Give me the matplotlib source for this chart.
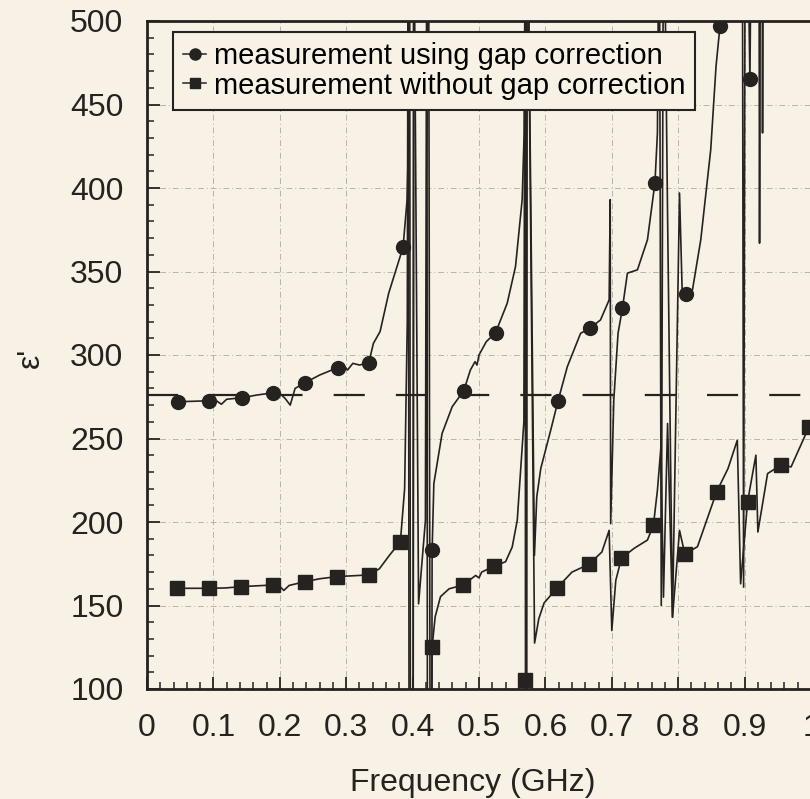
import matplotlib
matplotlib.use('Agg')
import matplotlib.pyplot as plt
from matplotlib.ticker import MultipleLocator

plt.rcParams['font.family'] = ['Liberation Sans', 'DejaVu Sans']

# permittivity traces, gap-corrected (circles) and uncorrected (squares)
circ_f = [0.046, 0.070, 0.094, 0.105, 0.112, 0.120, 0.143, 0.165, 0.1905, 0.200,
          0.208, 0.2157, 0.223, 0.238, 0.260, 0.287, 0.297, 0.302, 0.310, 0.320,
          0.334, 0.341, 0.351, 0.364, 0.3856, 0.3917, 0.394, 0.3955, 0.397, 0.4005,
          0.4015, 0.409, 0.4193, 0.4215, 0.4225, 0.428, 0.4294, 0.432, 0.4444, 0.4596,
          0.477, 0.487, 0.494, 0.497, 0.500, 0.511, 0.525, 0.5425, 0.555, 0.565,
          0.568, 0.5705, 0.5715, 0.5725, 0.5835, 0.587, 0.593, 0.608, 0.619, 0.633,
          0.653, 0.667, 0.683, 0.696, 0.6976, 0.6983, 0.703, 0.7094, 0.716, 0.7235,
          0.7386, 0.7537, 0.765, 0.7687, 0.7715, 0.7745, 0.778, 0.784, 0.7914, 0.802,
          0.806, 0.8115, 0.8215, 0.834, 0.849, 0.857, 0.863, 0.866, 0.8965, 0.8985,
          0.901, 0.906, 0.908, 0.911, 0.9215, 0.9225, 0.924, 0.9265, 0.927, 0.928]
circ_e = [272, 272.3, 272.6, 272.5, 270.5, 273.5, 274.4, 276, 277.4, 277,
          274, 270, 280, 283.4, 288, 292.4, 293.5, 291, 295, 294,
          295.4, 307, 314, 337, 364.5, 393, 433, 600, -100, -100,
          600, 151, 201, 600, -100, -100, 183.2, 223, 253, 269,
          278.6, 291, 296, 294, 300, 308, 313.4, 331, 353, 393,
          433, 600, -100, 600, 180, 215, 232, 255, 272.5, 293,
          313, 316, 321, 333, 393, 199, 273, 313, 328, 349,
          351, 369, 403.2, 433, 600, 150, 600, 383, 143, 397,
          338, 336.5, 339, 369, 423, 473, 497.2, 600, 600, 161,
          600, 520, 465, 600, 600, 367, 600, 600, 433, 600]

sq_f = [0.0448, 0.0935, 0.118, 0.1418, 0.1905, 0.200, 0.206, 0.214, 0.238, 0.260,
        0.286, 0.334, 0.350, 0.365, 0.3816, 0.388, 0.392, 0.3935, 0.395, 0.4005,
        0.402, 0.424, 0.427, 0.4294, 0.434, 0.442, 0.455, 0.476, 0.495, 0.500,
        0.504, 0.523, 0.540, 0.550, 0.5576, 0.5676, 0.5695, 0.570, 0.5705, 0.5725,
        0.5837, 0.590, 0.598, 0.618, 0.640, 0.6656, 0.685, 0.696, 0.700, 0.706,
        0.7145, 0.7335, 0.7537, 0.7627, 0.7687, 0.774, 0.7778, 0.784, 0.7914, 0.802,
        0.810, 0.829, 0.858, 0.875, 0.889, 0.894, 0.9045, 0.917, 0.920, 0.9346,
        0.9548, 0.970, 0.997, 1.010]
sq_e = [160.3, 160.3, 160.5, 161.3, 162.3, 161.5, 159, 162, 164.3, 166,
        167.3, 168.3, 172, 180, 188.2, 220, 320, 600, -100, -100,
        600, 600, -100, 125.3, 143.3, 155.3, 160, 162.3, 168, 166.5,
        170, 173.6, 176.2, 185, 201, 260, 600, 105.4, -100, 600,
        127.5, 142, 151.5, 160.7, 170, 174.7, 182, 195, 135, 165,
        178.3, 184.2, 189.2, 198.2, 219, 245, 155, 259, 143, 195,
        180.8, 185.2, 218.2, 232, 249, 163, 212.2, 240, 194, 229,
        234.1, 233, 257, 265]

# sampled points that carry markers
circ_mark_f = [0.046, 0.094, 0.143, 0.1905, 0.238, 0.287, 0.334, 0.3856, 0.4294,
               0.477, 0.525, 0.619, 0.667, 0.716, 0.765, 0.8115, 0.863, 0.908]
circ_mark_e = [272, 272.6, 274.4, 277.4, 283.4, 292.4, 295.4, 364.5, 183.2,
               278.6, 313.4, 272.5, 316, 328, 403.2, 336.5, 497.2, 465]
sq_mark_f = [0.0448, 0.0935, 0.1418, 0.1905, 0.238, 0.286, 0.334, 0.3816, 0.4294,
             0.476, 0.523, 0.570, 0.618, 0.6656, 0.7145, 0.7627, 0.810, 0.858,
             0.9045, 0.9548, 0.997]
sq_mark_e = [160.3, 160.3, 161.3, 162.3, 164.3, 167.3, 168.3, 188.2, 125.3,
             162.3, 173.6, 105.4, 160.7, 174.7, 178.3, 198.2, 180.8, 218.2,
             212.2, 234.1, 257]

ref_level = 276
x_ticks = [0, 0.1, 0.2, 0.3, 0.4, 0.5, 0.6, 0.7, 0.8, 0.9, 1.0]
x_labels = ['0', '0.1', '0.2', '0.3', '0.4', '0.5', '0.6', '0.7', '0.8', '0.9', '1']
y_ticks = [100, 150, 200, 250, 300, 350, 400, 450, 500]

bg = '#f7f1e6'
ink = '#262220'


def main():
 fig = plt.figure(figsize=(8.1, 7.99), dpi=100, facecolor=bg)
 ax = fig.add_axes([147 / 810, 110 / 799, 664 / 810, 668 / 799], facecolor=bg)

 ax.plot(circ_f, circ_e, color=ink, lw=1.2, zorder=3)
 ax.plot(sq_f, sq_e, color=ink, lw=1.2, zorder=3)
 ax.plot(circ_mark_f, circ_mark_e, 'o', color=ink, ms=10, zorder=4)
 ax.plot(sq_mark_f, sq_mark_e, 's', color=ink, ms=9.5, zorder=4)
 ax.axhline(ref_level, color=ink, lw=1.6, ls=(0, (14, 14)), zorder=2)

 # legend proxies: short line with the marker in the middle
 h1, = ax.plot([], [], 'o-', color=ink, ms=8, lw=1.1)
 h2, = ax.plot([], [], 's-', color=ink, ms=7.5, lw=1.1)
 leg = ax.legend([h1, h2], ['measurement using gap correction', 'measurement without gap correction'],
                 loc='upper left', bbox_to_anchor=(0.039, 0.9835), borderaxespad=0,
                 fontsize=21, handlelength=0.8, handletextpad=0.25, labelspacing=0.05,
                 borderpad=0.35, fancybox=False, framealpha=1, facecolor=bg, edgecolor=ink)
 leg.get_frame().set_linewidth(1.5)
 leg.set_zorder(5)

 ax.set_xlim(0, 1.0)
 ax.set_ylim(100, 500)
 ax.set_xticks(x_ticks)
 ax.set_xticklabels(x_labels)
 ax.set_yticks(y_ticks)
 ax.xaxis.set_minor_locator(MultipleLocator(0.02))
 ax.yaxis.set_minor_locator(MultipleLocator(10))
 ax.tick_params(which='major', direction='in', length=9, width=1.3, colors=ink, labelsize=23)
 ax.tick_params(which='minor', direction='in', length=5, width=1.1, colors=ink)
 ax.tick_params(axis='x', which='major', pad=17)
 ax.tick_params(axis='y', which='major', pad=17)
 ax.grid(True, which='major', color='#b9b4aa', lw=0.7, ls=(0, (6, 3, 1, 3)), zorder=1)

 for s in ax.spines.values():
  s.set_linewidth(2)
  s.set_color(ink)

 ax.set_xlabel('Frequency (GHz)', fontsize=23, color=ink)
 ax.xaxis.set_label_coords(0.49, -0.118)
 ax.set_ylabel("ε'", fontsize=23, color=ink)
 ax.yaxis.set_label_coords(-0.153, 0.495)

 fig.savefig('out.png', dpi=100, facecolor=bg)


if __name__ == '__main__':
    main()
